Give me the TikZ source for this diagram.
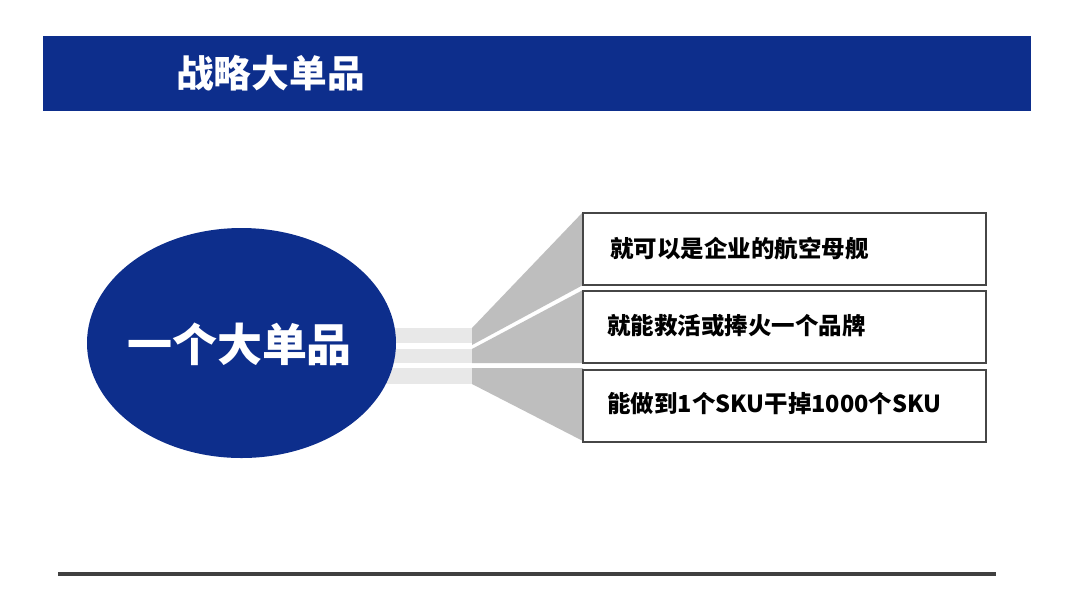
\documentclass[tikz,border=0pt]{standalone}
\usepackage{fontspec}
\usetikzlibrary{shapes.geometric}
\setmainfont{Noto Sans CJK SC}
\definecolor{hdrblue}{RGB}{13,46,140}
\definecolor{stripgray}{RGB}{232,232,232}
\definecolor{fangray}{RGB}{190,190,190}
\definecolor{boxline}{RGB}{70,70,70}
\definecolor{rulegray}{RGB}{64,64,64}
\tikzset{
  itembox/.style={draw=boxline, line width=1.2pt, fill=white, minimum width=403*0.025cm, minimum height=72*0.025cm, anchor=north west, inner sep=0pt},
  itemtext/.style={anchor=west, font=\fontsize{16.7pt}{18pt}\selectfont\bfseries, text=black, inner sep=0pt},
}
\begin{document}
\begin{tikzpicture}[x=0.025cm, y=-0.025cm]
\useasboundingbox (0,0) rectangle (1080,608);
\fill[white] (0,0) rectangle (1080,608);
% header
\node[fill=hdrblue, minimum width=988*0.025cm, minimum height=75*0.025cm, anchor=north west, inner sep=0pt] (hdr) at (43,36) {};
\node[anchor=west, text=white, font=\fontsize{26.8pt}{30pt}\selectfont\bfseries, inner sep=0pt] (title) at (176,73) {战略大单品};
% strips
\fill[stripgray] (360,328) rectangle (472,343);
\fill[stripgray] (360,349) rectangle (472,363);
\fill[stripgray] (360,368) rectangle (472,384);
% ellipse
\node[ellipse, fill=hdrblue, minimum width=309*0.025cm, minimum height=230*0.025cm, inner sep=0pt] (big) at (241.5,343) {};
\node[text=white, font=\fontsize{32pt}{34pt}\selectfont\bfseries, inner sep=0pt] (bigtext) at (239.5,344) {一个大单品};
% fans
\fill[fangray] (472,328) -- (583,212) -- (583,285) -- (472,345) -- cycle;
\fill[fangray] (472,349) -- (583,290) -- (583,363) -- (472,363) -- cycle;
\fill[fangray] (472,368) -- (583,368) -- (583,441) -- (472,384) -- cycle;
% boxes
\node[itembox] (b1) at (582,212) {};
\node[itembox] (b2) at (582,290) {};
\node[itembox] (b3) at (582,369) {};
\node[itemtext] (t1) at (610,249) {就可以是企业的航空母舰};
\node[itemtext] (t2) at (607,326) {就能救活或捧火一个品牌};
\node[itemtext] (t3) at (607,404) {能做到1个SKU干掉1000个SKU};
% bottom rule
\coordinate (r1) at (58,574);
\coordinate (r2) at (996,574);
\draw[rulegray, line width=2.2pt] (r1) -- (r2);
\end{tikzpicture}
\end{document}
